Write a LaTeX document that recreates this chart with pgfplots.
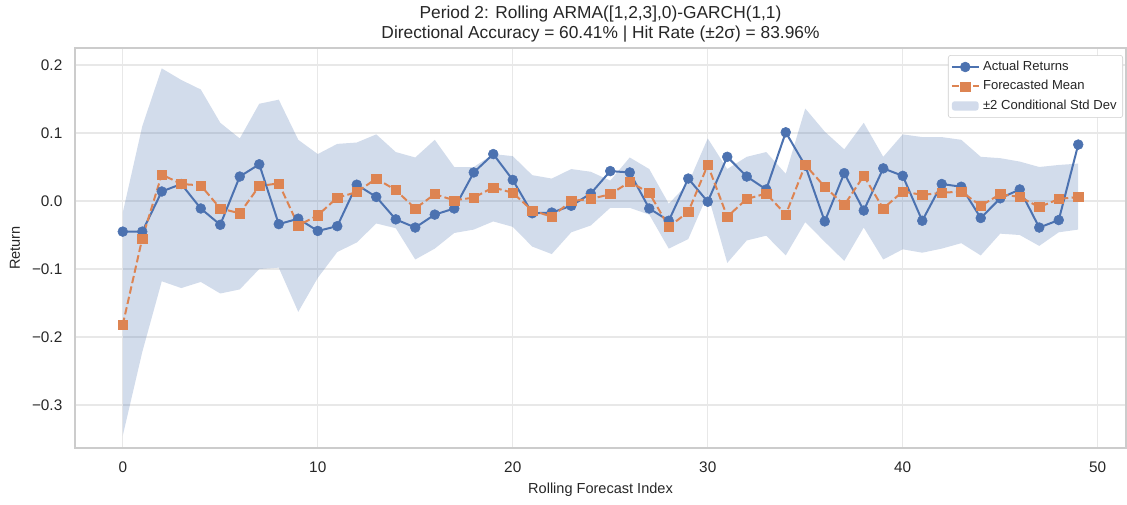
\documentclass[border=0pt]{standalone}
\usepackage{fontspec}
\setmainfont{Liberation Sans}
\usepackage{pgfplots}
\usepackage{pgfplotstable}
\usepgfplotslibrary{fillbetween}
\pgfplotsset{compat=1.18}

\definecolor{sbblue}{HTML}{4C72B0}
\definecolor{sborange}{HTML}{DD8452}
\definecolor{spine}{HTML}{CCCCCC}
\definecolor{gridc}{HTML}{E8E8E8}
\definecolor{txt}{HTML}{262626}

% rolling forecast: actual return, forecast mean, mean -/+ 2 sigma
\pgfplotstableread{
idx actual mean lower upper
0  -0.045 -0.182 -0.345 -0.017
1  -0.045 -0.055 -0.222  0.110
2   0.014  0.039 -0.118  0.195
3   0.025  0.025 -0.128  0.178
4  -0.011  0.023 -0.119  0.164
5  -0.035 -0.011 -0.136  0.115
6   0.036 -0.018 -0.130  0.092
7   0.054  0.022 -0.100  0.143
8  -0.034  0.026 -0.098  0.149
9  -0.026 -0.036 -0.163  0.090
10 -0.044 -0.021 -0.113  0.069
11 -0.037  0.005 -0.075  0.084
12  0.024  0.013 -0.061  0.086
13  0.006  0.033 -0.033  0.098
14 -0.027  0.016 -0.040  0.072
15 -0.039 -0.011 -0.086  0.064
16 -0.020  0.010 -0.070  0.090
17 -0.011  0.001 -0.047  0.050
18  0.042  0.005 -0.042  0.050
19  0.069  0.020 -0.030  0.069
20  0.031  0.012 -0.038  0.066
21 -0.018 -0.014 -0.067  0.038
22 -0.017 -0.023 -0.078  0.033
23 -0.007  0.000 -0.046  0.047
24  0.011  0.003 -0.036  0.043
25  0.044  0.010 -0.010  0.030
26  0.042  0.028 -0.010  0.064
27 -0.011  0.012 -0.020  0.047
28 -0.029 -0.038 -0.070 -0.004
29  0.033 -0.016 -0.056  0.026
30 -0.001  0.053  0.010  0.092
31  0.065 -0.023 -0.091  0.047
32  0.036  0.003 -0.058  0.065
33  0.017  0.011 -0.051  0.072
34  0.101 -0.020 -0.080  0.040
35  0.052  0.053 -0.031  0.136
36 -0.030  0.021 -0.060  0.102
37  0.041 -0.006 -0.088  0.076
38 -0.014  0.037 -0.039  0.115
39  0.048 -0.011 -0.086  0.065
40  0.037  0.014 -0.071  0.098
41 -0.029  0.009 -0.076  0.094
42  0.025  0.012 -0.070  0.094
43  0.021  0.014 -0.062  0.090
44 -0.025 -0.007 -0.080  0.065
45  0.004  0.010 -0.048  0.063
46  0.017  0.006 -0.050  0.058
47 -0.039 -0.009 -0.066  0.050
48 -0.028  0.003 -0.046  0.053
49  0.083  0.006 -0.042  0.055
}\rolling

\begin{document}
\begin{tikzpicture}
\begin{axis}[
    at={(0pt,0pt)}, anchor=south west,
    width=788.25pt, height=300pt, scale only axis,
    xmin=-2.45, xmax=51.45, ymin=-0.3632, ymax=0.225,
    xtick={0,10,20,30,40,50},
    xticklabels={0,10,20,30,40,50},
    ytick={-0.3,-0.2,-0.1,0,0.1,0.2},
    yticklabels={−0.3,−0.2,−0.1,0.0,0.1,0.2},
    major tick length=0pt,
    grid=major,
    major grid style={gridc, line width=0.8pt},
    axis line style={spine, line width=1pt},
    ticklabel style={font=\fontsize{11.5pt}{13pt}\selectfont, text=txt},
    yticklabel style={xshift=-6pt},
    xticklabel style={yshift=-7pt},
    xlabel={Rolling Forecast Index},
    ylabel={Return},
    label style={font=\fontsize{10.9pt}{13pt}\selectfont, text=txt},
    xlabel style={at={(axis description cs:0.5,-0.105)}, anchor=center},
    ylabel style={at={(axis description cs:-0.0571,0.5)}, anchor=center},
    title={Period 2: Rolling ARMA([1,2,3],0)-GARCH(1,1)\\Directional Accuracy = 60.41\% | Hit Rate (±2σ) = 83.96\%},
    title style={at={(axis description cs:0.5,1)}, anchor=south, align=center,
        inner sep=0pt, yshift=-2pt, font=\fontsize{13pt}{15pt}\selectfont, text=txt},
    legend cell align=left,
    legend style={at={(axis description cs:1,1)}, anchor=north east,
        xshift=-2.25pt, yshift=-5.25pt, draw=spine, fill=white,
        rounded corners=2pt, font=\fontsize{9.8pt}{11pt}\selectfont, text=txt,
        row sep=0pt, inner xsep=2pt, inner ysep=1.5pt,
        nodes={inner sep=2.6pt, text height=7.2pt, text depth=2.2pt}},
    legend image code/.code={
        \draw[mark repeat=2, mark phase=2] plot coordinates {(0pt,0pt) (10pt,0pt) (20pt,0pt)};},
]
\addplot[name path=up, draw=none, forget plot] table[x=idx, y=upper] {\rolling};
\addplot[name path=lo, draw=none, forget plot] table[x=idx, y=lower] {\rolling};
\addplot[sbblue, fill opacity=0.25, draw=none, forget plot] fill between[of=up and lo];

\addplot[sbblue, line width=1.5pt, mark=*, mark size=3.7pt,
    mark options={solid, line width=0.4pt}] table[x=idx, y=actual] {\rolling};
\addlegendentry{Actual Returns}

\addplot[sborange, line width=1.5pt, dash pattern=on 5.5pt off 2.5pt,
    mark=square*, mark size=3.4pt, mark options={solid, line width=0.4pt}]
    table[x=idx, y=mean] {\rolling};
\addlegendentry{Forecasted Mean}

\addlegendimage{legend image code/.code={
    \fill[sbblue, fill opacity=0.25, draw=none] (0pt,-3.5pt) rectangle (20pt,3.5pt);}}
\addlegendentry{±2 Conditional Std Dev}
\end{axis}
% page size: 1127x504 px at 0.75pt per px, axis box lower-left at origin
\pgfresetboundingbox
\useasboundingbox (-56.25pt,-42pt) rectangle (789pt,336pt);
\end{tikzpicture}
\end{document}
